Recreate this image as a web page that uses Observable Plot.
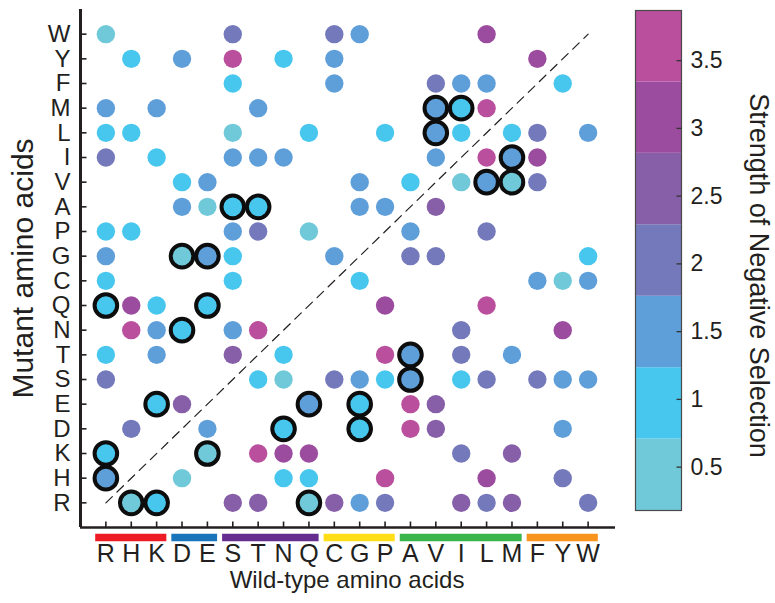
<!DOCTYPE html>
<html>
<head>
<meta charset="utf-8">
<script src="https://cdn.jsdelivr.net/npm/d3@7"></script>
<script src="https://cdn.jsdelivr.net/npm/@observablehq/plot@0.6"></script>
<style>
  html, body { margin: 0; padding: 0; background: #fff; }
  #chart { position: relative; width: 775px; height: 603px; overflow: hidden; }
  #chart svg { position: absolute; overflow: visible; }
</style>
</head>
<body>
<div id="chart"></div>
<script>
// ---- Data -------------------------------------------------------------
// amino-acid order (x: wild-type, y: mutant; y runs bottom R -> top W)
const aminoAcids = ["R","H","K","D","E","S","T","N","Q","C","G","P","A","V","I","L","M","F","Y","W"];

// one entry per mutant row (top to bottom), with the wild-type columns that have a dot
const rowMutant = ["W","Y","F","M","L","I","V","A","P","G","C","Q","N","T","S","E","D","K","H","R"];
const rowWildTypes = [
  ["R","S","C","G","L"],
  ["H","D","S","N","C","F"],
  ["S","C","V","I","L","Y"],
  ["R","K","T","V","I","L"],
  ["R","H","S","Q","P","V","I","M","F","W"],
  ["R","K","S","T","N","V","L","M","F"],
  ["D","E","G","A","I","L","M","F"],
  ["D","E","S","T","G","P","V"],
  ["R","H","S","T","Q","A","L"],
  ["R","D","E","S","C","A","V","W"],
  ["R","S","G","F","Y","W"],
  ["R","H","K","E","P","L"],
  ["H","K","D","S","T","I","Y"],
  ["R","K","S","N","P","A","I","M"],
  ["R","T","N","C","G","P","A","I","L","F","Y","W"],
  ["K","D","Q","G","A","V"],
  ["H","E","N","G","A","V","Y"],
  ["R","E","T","N","Q","I","M"],
  ["R","D","N","Q","P","L","Y"],
  ["H","K","S","T","Q","C","G","P","I","L","M","W"]
];
const rowStrengths = [
  [0.45,2.0,2.0,1.5,3.05],
  [1.0,1.5,3.6,1.0,1.5,3.05],
  [1.0,1.5,2.0,1.5,1.5,1.0],
  [1.5,1.5,1.5,1.5,1.0,3.6],
  [1.0,1.0,0.45,1.0,1.0,1.5,1.0,1.0,2.0,1.5],
  [2.0,1.0,1.5,1.5,1.5,1.5,3.6,1.5,3.05],
  [1.0,1.5,1.5,1.0,0.45,1.5,0.45,2.0],
  [1.5,0.45,1.0,1.0,1.5,1.5,2.5],
  [1.0,1.0,1.5,2.0,0.45,1.5,2.0],
  [1.5,0.45,1.5,1.0,1.5,2.0,2.0,1.0],
  [1.0,1.0,1.0,1.5,0.45,1.5],
  [1.0,3.05,1.0,1.0,3.05,3.6],
  [3.6,1.5,1.0,1.5,3.6,2.0,3.05],
  [1.0,1.5,2.5,1.0,3.6,1.5,2.0,1.5],
  [2.0,1.0,0.45,2.0,1.5,1.0,1.5,1.0,2.0,2.0,1.5,1.5],
  [1.0,2.5,1.5,1.0,3.6,2.5],
  [2.0,1.5,1.0,1.0,3.6,2.5,1.5],
  [1.0,0.45,3.6,3.05,3.05,2.0,2.5],
  [1.5,0.45,1.0,1.0,3.6,3.05,2.0],
  [0.45,1.0,2.5,2.5,0.45,2.5,1.5,2.0,2.5,2.0,2.5,2.0]
];
// highlighted substitutions [wild-type, mutant]
const circledPairs = [
  ["V","M"],["I","M"],["V","L"],["M","I"],["L","V"],["M","V"],["S","A"],["T","A"],
  ["D","G"],["E","G"],["R","Q"],["E","Q"],["D","N"],["A","T"],["A","S"],
  ["K","E"],["Q","E"],["G","E"],["N","D"],["G","D"],["R","K"],["E","K"],
  ["R","H"],["H","R"],["K","R"],["Q","R"]
];

// amino-acid property groups under the x axis
const groupFirst  = ["R","D","S","C","A","F"];
const groupLast   = ["K","E","Q","P","M","W"];
const groupColors = ["#ed1c24","#1b75bb","#662d91","#ffde17","#39b54a","#f7941d"];

// discrete colour bar
const binEdges  = [0.18, 0.707, 1.234, 1.761, 2.289, 2.816, 3.343, 3.87];
const binColors = ["#6fc9d9","#47c7ee","#5f9fd9","#7479bb","#875ea8","#9c4c9f","#b94f9d"];
const colorTicks = [0.5, 1, 1.5, 2, 2.5, 3, 3.5];

const xTitle = "Wild-type amino acids";
const yTitle = "Mutant amino acids";
const cbTitle = "Strength of Negative Selection";

// ---- Build table ------------------------------------------------------
const pos = aa => aminoAcids.indexOf(aa) + 1;
const isCircled = (w, m) => circledPairs.some(([cw, cm]) => cw === w && cm === m);
const cells = [];
rowMutant.forEach((m, r) => {
  rowWildTypes[r].forEach((w, j) => {
    cells.push({wt: w, mut: m, v: rowStrengths[r][j], circled: isCircled(w, m)});
  });
});
const plain = cells.filter(d => !d.circled);
const boxed = cells.filter(d => d.circled);
const tickIdx = aminoAcids.map(pos);

const ink = "#231f20";
const font = "'Liberation Sans', Arial, Helvetica, sans-serif";
const colorScale = {type: "threshold", domain: binEdges.slice(1, -1), range: binColors};

const tickUp    = {draw(ctx) { ctx.moveTo(0, 0); ctx.lineTo(0, -6); }};
const tickRight = {draw(ctx) { ctx.moveTo(0, 0); ctx.lineTo(6, 0); }};
const tickLeft  = {draw(ctx) { ctx.moveTo(0, 0); ctx.lineTo(-5, 0); }};

// ---- Main chart -------------------------------------------------------
const main = Plot.plot({
  width: 775,
  height: 603,
  marginLeft: 80,
  marginRight: 162,
  marginTop: 9,
  marginBottom: 76,
  style: {fontFamily: font, color: ink, background: "transparent", overflow: "visible"},
  x: {domain: [0, aminoAcids.length + 1]},
  y: {domain: [0, aminoAcids.length + 1]},
  color: colorScale,
  marks: [
    Plot.line([aminoAcids[0], aminoAcids[aminoAcids.length - 1]], {
      x: pos, y: pos, stroke: ink, strokeWidth: 1.2, strokeDasharray: "9,6.5"
    }),
    Plot.dot(plain, {x: d => pos(d.wt), y: d => pos(d.mut), fill: "v", r: 9.2}),
    Plot.dot(boxed, {x: d => pos(d.wt), y: d => pos(d.mut), fill: "v", r: 11.3, stroke: "#0d0d0d", strokeWidth: 4}),
    // axis lines
    Plot.ruleX([0], {stroke: ink, strokeWidth: 3}),
    Plot.ruleY([0], {stroke: ink, strokeWidth: 2.7, insetRight: -2}),
    // inward ticks
    Plot.dot(tickIdx, {x: d => d, y: () => 0, symbol: tickUp, fill: "none", stroke: ink, strokeWidth: 1.6}),
    Plot.dot(tickIdx, {y: d => d, x: () => 0, symbol: tickRight, fill: "none", stroke: ink, strokeWidth: 1.6}),
    // group bars
    ...groupFirst.map((f, i) => Plot.ruleY([f], {
      y: () => 0, x1: d => pos(d) - 0.5, x2: () => pos(groupLast[i]) + 0.5,
      stroke: groupColors[i], strokeWidth: 7.5, dy: 10, insetLeft: 2.5, insetRight: 2.5
    })),
    // tick labels
    Plot.axisX(tickIdx, {anchor: "bottom", tickSize: 0, tickPadding: 17, tickFormat: i => aminoAcids[i - 1], fontSize: 25, label: null}),
    Plot.axisY(tickIdx, {anchor: "left", tickSize: 0, tickPadding: 10, tickFormat: i => aminoAcids[i - 1], fontSize: 24, label: null}),
    // titles
    Plot.text([xTitle], {frameAnchor: "bottom", dy: 53, text: d => d, fontSize: 24, fill: ink, textAnchor: "middle", lineAnchor: "middle"}),
    Plot.text([yTitle], {frameAnchor: "left", dx: -57, rotate: -90, text: d => d, fontSize: 30, fill: ink, textAnchor: "middle", lineAnchor: "middle"})
  ]
});
main.style.left = "0px";
main.style.top = "0px";

// ---- Colour bar -------------------------------------------------------
const bins = d3.range(binColors.length);
const cbar = Plot.plot({
  width: 140,
  height: 520,
  marginLeft: 0,
  marginRight: 94,
  marginTop: 10,
  marginBottom: 10,
  style: {fontFamily: font, color: ink, background: "transparent", overflow: "visible"},
  y: {domain: [binEdges[0], binEdges[binEdges.length - 1]], axis: null},
  color: colorScale,
  marks: [
    Plot.rect(bins, {y1: i => binEdges[i], y2: i => binEdges[i + 1], fill: i => (binEdges[i] + binEdges[i + 1]) / 2}),
    Plot.frame({stroke: "#4a4a4a", strokeWidth: 1.2}),
    Plot.dot(colorTicks, {y: d => d, frameAnchor: "right", symbol: tickLeft, fill: "none", stroke: "#333", strokeWidth: 1.3}),
    Plot.text(colorTicks, {y: d => d, text: d => String(d), frameAnchor: "right", dx: 9, textAnchor: "start", lineAnchor: "middle", fontSize: 23, fill: ink}),
    Plot.text([cbTitle], {frameAnchor: "right", dx: 77, dy: 15, rotate: 90, text: d => d, fontSize: 27, fill: ink, textAnchor: "middle", lineAnchor: "middle"})
  ]
});
cbar.style.left = "635px";
cbar.style.top = "0px";

const chart = document.getElementById("chart");
chart.appendChild(main);
chart.appendChild(cbar);
</script>
</body>
</html>
